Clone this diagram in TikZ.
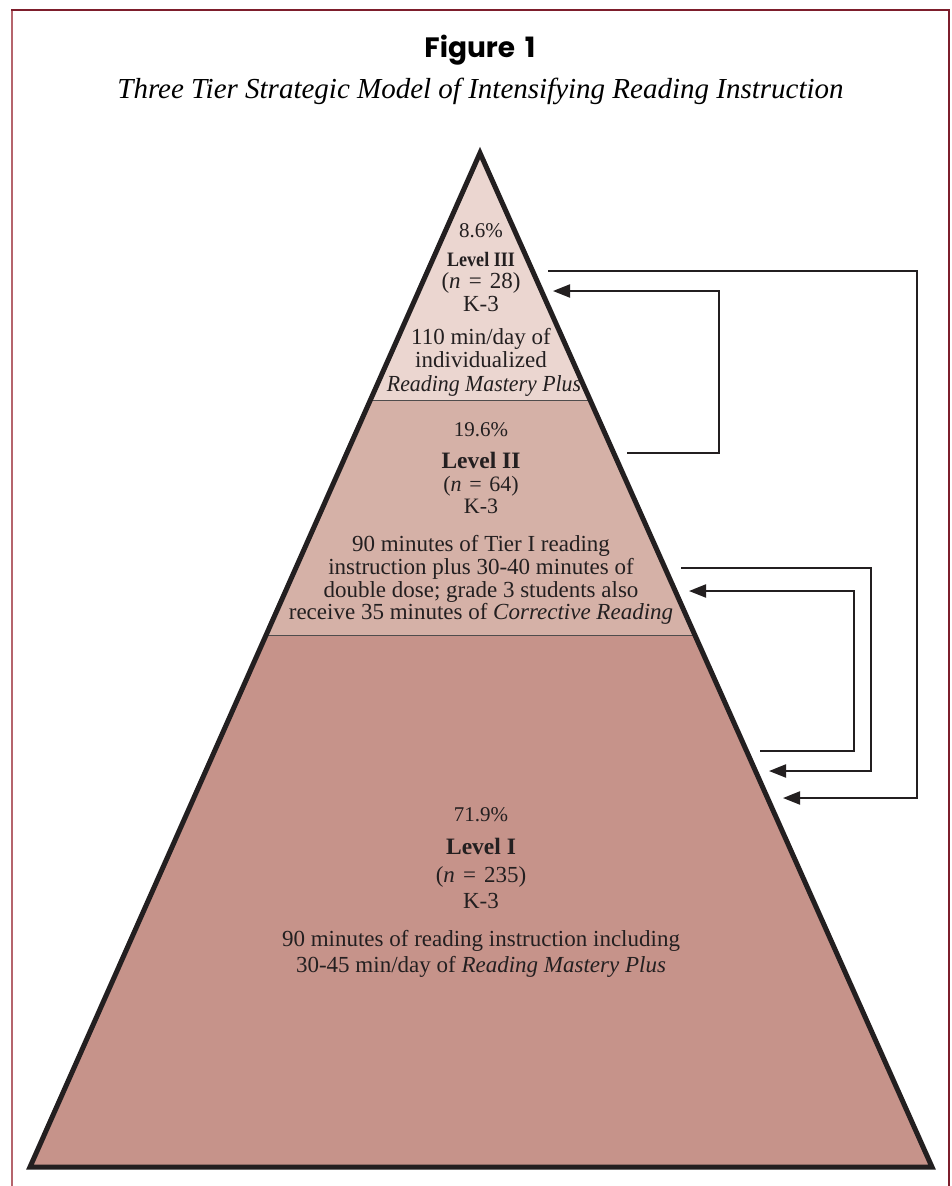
\documentclass[tikz,border=0pt]{standalone}
\usepackage{fontspec}
\setmainfont{Liberation Serif}
\newfontfamily\figfont{Poppins}
\usetikzlibrary{arrows.meta,calc}
\definecolor{tierA}{HTML}{EBD6D0}
\definecolor{tierB}{HTML}{D5B1A7}
\definecolor{tierC}{HTML}{C6938A}
\definecolor{frameDark}{HTML}{7D1E2C}
\definecolor{frameLight}{HTML}{B5646C}
\definecolor{ink}{HTML}{231F20}
\newcommand{\eqsp}{\hspace{0.35em}=\hspace{0.35em}}
\tikzset{
  txt/.style={anchor=base, inner sep=0pt, text=ink, font=\fontsize{23}{26}\selectfont},
  txtsm/.style={txt, font=\fontsize{22}{24}\selectfont},
  pct/.style={txt, font=\fontsize{21}{24}\selectfont},
  lvl/.style={txt, font=\fontsize{23.5}{26}\selectfont\bfseries},
  lvlsmall/.style={txt, font=\fontsize{20.5}{22}\selectfont\bfseries},
  link/.style={draw=ink, line width=2pt, line join=miter},
  linkarrow/.style={link, -{Triangle[length=17pt,width=13pt]}},
}
\begin{document}
\begin{tikzpicture}[x=1pt,y=-1pt]
\useasboundingbox (0,0) rectangle (951,1186);
\fill[white] (0,0) rectangle (951,1186);
% frame
\draw[frameLight, line width=2pt] (12,10) -- (12,1186);
\draw[frameDark, line width=2pt] (11,10) -- (949,10) -- (949,1186);
% title
\node[anchor=base, inner sep=0pt] (fig) at (480,57) {\figfont\fontsize{28}{32}\selectfont\bfseries Figure\hspace{0.35em}1};
\node[anchor=base, inner sep=0pt] (title) at (480.5,98.5) {\fontsize{29}{34}\selectfont\itshape Three Tier Strategic Model of Intensifying Reading Instruction};
% pyramid
\coordinate (apex) at (480,153);
\coordinate (bl) at (30,1167);
\coordinate (br) at (932,1167);
\coordinate (l3) at ($(apex)!0.24457!(bl)$);
\coordinate (r3) at ($(apex)!0.24457!(br)$);
\coordinate (l2) at ($(apex)!0.47535!(bl)$);
\coordinate (r2) at ($(apex)!0.47535!(br)$);
\fill[tierA] (apex) -- (r3) -- (l3) -- cycle;
\fill[tierB] (l3) -- (r3) -- (r2) -- (l2) -- cycle;
\fill[tierC] (l2) -- (r2) -- (br) -- (bl) -- cycle;
\draw[ink!80, line width=1pt] (l3) -- (r3);
\draw[ink!80, line width=1pt] (l2) -- (r2);
\draw[ink, line width=5pt, line join=miter, miter limit=20] (apex) -- (br) -- (bl) -- cycle;
% Level III
\node[pct] (p3) at (481,237) {8.6\%};
\node[lvlsmall] (v3) at (481,266.5) {\scalebox{0.88}[1]{Level III}};
\node[txt] (n3) at (481,288) {(\textit{n}\eqsp 28)};
\node[txt] (k3) at (481,311) {K-3};
\node[txt] (d3a) at (481,344) {110 min/day of};
\node[txt] (d3b) at (481,367.5) {individualized};
\node[txt] (d3c) at (484,391) {\scalebox{0.95}[1]{\textit{Reading Mastery Plus}}};
% Level II
\node[pct] (p2) at (481,436) {19.6\%};
\node[lvl] (v2) at (481,468.5) {Level II};
\node[txtsm] (n2) at (481,491.5) {(\textit{n}\eqsp 64)};
\node[txtsm] (k2) at (481,513) {K-3};
\node[txt] (d2a) at (481,551.5) {90 minutes of Tier I reading};
\node[txt] (d2b) at (481,574.5) {instruction plus 30-40 minutes of};
\node[txt] (d2c) at (481,597) {double dose; grade 3 students also};
\node[txt] (d2d) at (481,619.5) {receive 35 minutes of \textit{Corrective Reading}};
% Level I
\node[pct] (p1) at (481,821) {71.9\%};
\node[lvl] (v1) at (481,854) {Level I};
\node[txt] (n1) at (481,882) {(\textit{n}\eqsp 235)};
\node[txt] (k1) at (481,908) {K-3};
\node[txt] (d1a) at (481,946) {90 minutes of reading instruction including};
\node[txt] (d1b) at (481,972) {30-45 min/day of \textit{Reading Mastery Plus}};
% connectors
\coordinate (a1s) at (548,271);
\coordinate (a1e) at (783,798);
\coordinate (a2s) at (627,453);
\coordinate (a2e) at (553,291);
\coordinate (a3s) at (681,568);
\coordinate (a3e) at (769,771);
\coordinate (a4s) at (760,751);
\coordinate (a4e) at (689,591);
\draw[linkarrow] (a1s) -- (917,271) -- (917,798) -- (a1e);
\draw[linkarrow] (a2s) -- (719,453) -- (719,291) -- (a2e);
\draw[linkarrow] (a3s) -- (871,568) -- (871,771) -- (a3e);
\draw[linkarrow] (a4s) -- (854,751) -- (854,591) -- (a4e);
\end{tikzpicture}
\end{document}
